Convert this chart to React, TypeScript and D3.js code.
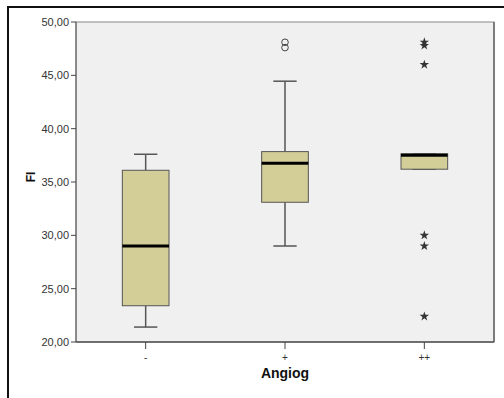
import React from "react";
import * as d3 from "d3";

const categories = ["-", "+", "++"];
const whiskerLow = [21.4, 29.0, 36.2];
const q1 = [23.4, 33.1, 36.2];
const median = [29.0, 36.75, 37.5];
const q3 = [36.1, 37.85, 37.65];
const whiskerHigh = [37.6, 44.45, 37.65];
// mild outliers (circles) and extremes (stars)
const circleOutliers = [
  { cat: "+", value: 48.1 },
  { cat: "+", value: 47.6 },
];
const starOutliers = [
  { cat: "++", value: 48.1 },
  { cat: "++", value: 47.8 },
  { cat: "++", value: 46.0 },
  { cat: "++", value: 30.0 },
  { cat: "++", value: 29.0 },
  { cat: "++", value: 22.4 },
];
const yTicks = [20, 25, 30, 35, 40, 45, 50];

const App = () => {
  const width = 504;
  const height = 398;
  const left = 76;
  const right = 494;
  const top = 22;
  const bottom = 342;

  const x = d3.scalePoint().domain(categories).range([left, right]).padding(0.5);
  const y = d3.scaleLinear().domain([20, 50]).range([bottom, top]);
  const boxW = x.step() * 0.335;
  const capW = boxW * 0.5;
  const fmt = (v) => d3.format(".2f")(v).replace(".", ",");
  const star = d3.symbol().type(d3.symbolStar).size(28)();

  return (
    <svg
      width={width}
      height={height}
      style={{ position: "absolute", left: 0, top: 0 }}
      fontFamily="Liberation Sans, Arial, sans-serif"
    >
      <rect width={width} height={height} fill="#fff" />
      <line x1={8} x2={width} y1={7} y2={7} stroke="#111" strokeWidth={2} />
      <line x1={8} x2={8} y1={6} y2={height} stroke="#111" strokeWidth={2} />

      <rect x={left} y={top} width={right - left} height={bottom - top} fill="#f0f0f0" stroke="#888" strokeWidth={1} />
      <line x1={right} x2={right} y1={top} y2={bottom} stroke="#666" strokeWidth={1.5} />
      <line x1={left} x2={left} y1={top} y2={bottom} stroke="#555" strokeWidth={1} />
      <line x1={left} x2={right} y1={bottom} y2={bottom} stroke="#555" strokeWidth={1.5} />

      {yTicks.map((t) => (
        <g key={t}>
          <line x1={left - 5} x2={left} y1={y(t)} y2={y(t)} stroke="#444" />
          <text x={left - 7} y={y(t)} dy="0.35em" textAnchor="end" fontSize={11} fill="#333">
            {fmt(t)}
          </text>
        </g>
      ))}

      {categories.map((c) => (
        <g key={c}>
          <line x1={x(c)} x2={x(c)} y1={bottom} y2={bottom + 7} stroke="#444" />
          <text x={x(c)} y={bottom + 19} textAnchor="middle" fontSize={10} fill="#333">
            {c}
          </text>
        </g>
      ))}

      {categories.map((c, i) => {
        const cx = x(c);
        return (
          <g key={"box" + c}>
            <line x1={cx} x2={cx} y1={y(whiskerHigh[i])} y2={y(q3[i])} stroke="#555" strokeWidth={1.5} />
            <line x1={cx} x2={cx} y1={y(q1[i])} y2={y(whiskerLow[i])} stroke="#555" strokeWidth={1.5} />
            <line x1={cx - capW / 2} x2={cx + capW / 2} y1={y(whiskerHigh[i])} y2={y(whiskerHigh[i])} stroke="#555" strokeWidth={1.5} />
            <line x1={cx - capW / 2} x2={cx + capW / 2} y1={y(whiskerLow[i])} y2={y(whiskerLow[i])} stroke="#555" strokeWidth={1.5} />
            <rect
              x={cx - boxW / 2}
              y={y(q3[i])}
              width={boxW}
              height={y(q1[i]) - y(q3[i])}
              fill="#d3cd98"
              stroke="#555"
              strokeWidth={1}
            />
            <line x1={cx - boxW / 2} x2={cx + boxW / 2} y1={y(median[i])} y2={y(median[i])} stroke="#000" strokeWidth={3} />
          </g>
        );
      })}

      {circleOutliers.map((d, i) => (
        <circle key={"c" + i} cx={x(d.cat)} cy={y(d.value)} r={3.3} fill="none" stroke="#444" strokeWidth={1} />
      ))}
      {starOutliers.map((d, i) => (
        <path key={"s" + i} d={star} transform={`translate(${x(d.cat)},${y(d.value)})`} fill="#333" />
      ))}

      <text x={x("+")} y={378} textAnchor="middle" fontSize={14} fontWeight="bold" fill="#111">
        Angiog
      </text>
      <text
        transform={`translate(35,177) rotate(-90)`}
        textAnchor="middle"
        fontSize={12}
        fontWeight="bold"
        fill="#111"
      >
        FI
      </text>
    </svg>
  );
};

export default App;
